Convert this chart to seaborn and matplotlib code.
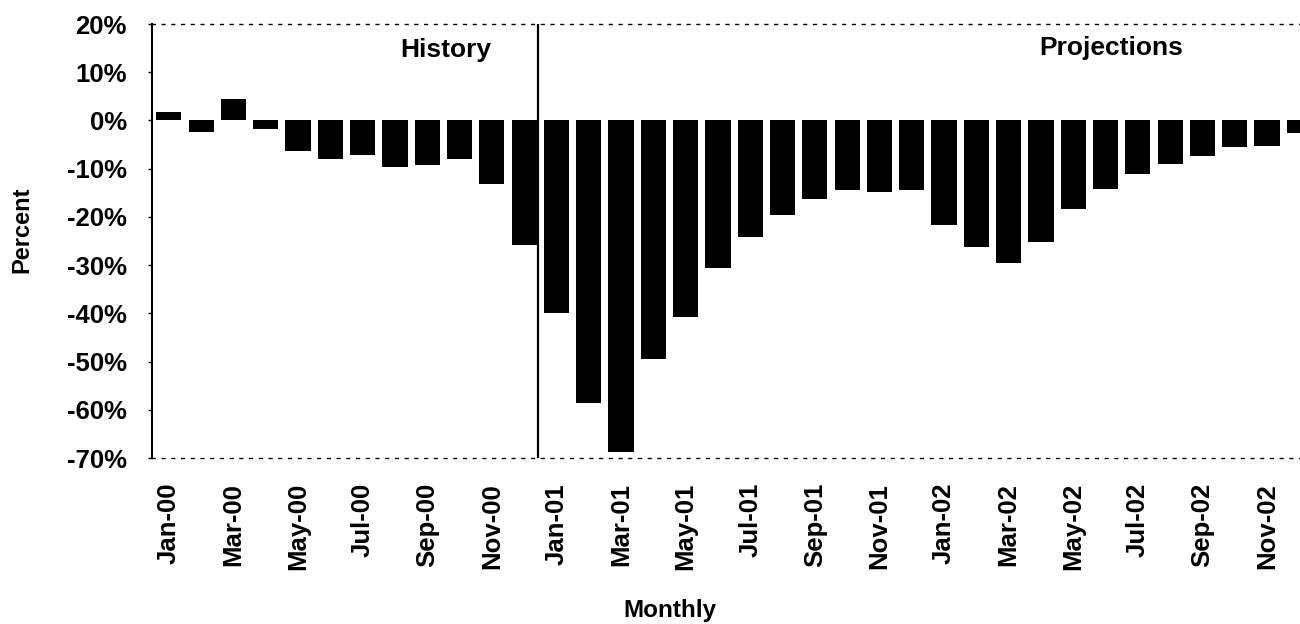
import matplotlib
matplotlib.use("Agg")
import matplotlib.pyplot as plt
import seaborn as sns
import pandas as pd

months = ["Jan-00", "Feb-00", "Mar-00", "Apr-00", "May-00", "Jun-00",
          "Jul-00", "Aug-00", "Sep-00", "Oct-00", "Nov-00", "Dec-00",
          "Jan-01", "Feb-01", "Mar-01", "Apr-01", "May-01", "Jun-01",
          "Jul-01", "Aug-01", "Sep-01", "Oct-01", "Nov-01", "Dec-01",
          "Jan-02", "Feb-02", "Mar-02", "Apr-02", "May-02", "Jun-02",
          "Jul-02", "Aug-02", "Sep-02", "Oct-02", "Nov-02", "Dec-02"]
values = [1.7, -2.4, 4.4, -1.7, -6.3, -8.0, -7.2, -9.6, -9.3, -7.9, -13.2, -25.8,
          -40.0, -58.5, -68.8, -49.5, -40.8, -30.7, -24.1, -19.7, -16.2, -14.4, -14.8, -14.4,
          -21.7, -26.2, -29.5, -25.2, -18.4, -14.3, -11.1, -9.1, -7.4, -5.6, -5.2, -2.5]
y_ticks = [20, 10, 0, -10, -20, -30, -40, -50, -60, -70]
tick_months = months[::2]

sns.set_style("white")
plt.rcParams["font.family"] = ["Liberation Sans", "DejaVu Sans"]
plt.rcParams["font.weight"] = "bold"
for k in ["text.color", "axes.labelcolor", "xtick.color", "ytick.color", "axes.edgecolor"]:
    plt.rcParams[k] = "black"

W, H = 1300, 624
fig = plt.figure(figsize=(W / 100, H / 100), dpi=100)
ax = fig.add_axes([152 / W, 1 - 458 / H, 1 - 152 / W, (458 - 24) / H])

df = pd.DataFrame({"month": months, "value": values})
sns.barplot(data=df, x="month", y="value", color="black", saturation=1,
            width=0.78, edgecolor="none", linewidth=0, ax=ax, order=months)

ax.set_xlim(-0.52, 35.02)
ax.set_ylim(-70, 20)

ax.set_yticks(y_ticks)
ax.set_yticklabels([f"{v}%" for v in y_ticks], fontsize=18.5, fontweight="bold",
                   color="black")
ax.set_xticks([months.index(m) for m in tick_months])
ax.set_xticklabels(tick_months, rotation=90, fontsize=18.5, fontweight="bold",
                   color="black")
ax.tick_params(axis="x", length=0, pad=18)
ax.tick_params(axis="y", length=3, width=1, pad=15, left=True, color="black")

ax.set_xlabel("")
ax.set_ylabel("")

for s in ["top", "bottom"]:
    ax.spines[s].set_visible(True)
    ax.spines[s].set_color("black")
    ax.spines[s].set_linestyle((0, (2, 5)))
    ax.spines[s].set_linewidth(1.0)
ax.spines["left"].set_color("black")
ax.spines["left"].set_linewidth(1.5)
ax.spines["right"].set_visible(False)

# History / Projections divider
ax.axvline(11.42, color="black", lw=1.6)

fig.text(446 / W, 1 - 57 / H, "History", ha="center", va="baseline",
         fontsize=19, fontweight="bold", color="black")
fig.text(1111 / W, 1 - 55 / H, "Projections", ha="center", va="baseline",
         fontsize=19, fontweight="bold", color="black")
fig.text(22 / W, 1 - 230 / H, "Percent", ha="center", va="center", rotation=90,
         fontsize=17, fontweight="bold", color="black")
fig.text(670 / W, 1 - 611 / H, "Monthly", ha="center", va="center",
         fontsize=17.5, fontweight="bold", color="black")

fig.savefig("out.png", dpi=100)
